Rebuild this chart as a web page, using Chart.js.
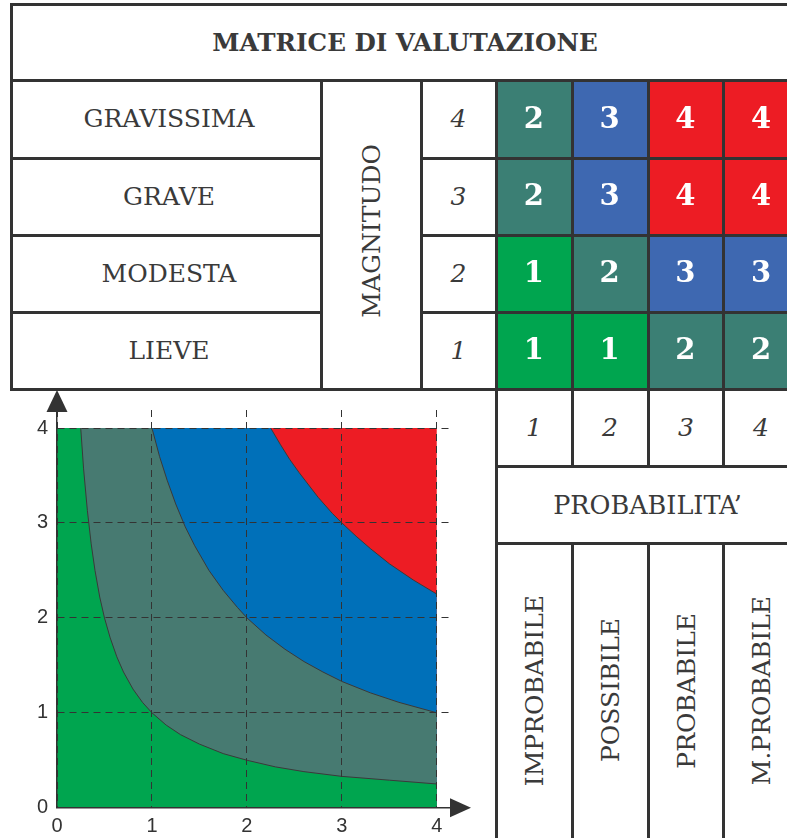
<!DOCTYPE html>
<html>
<head>
<meta charset="utf-8">
<script src="https://cdn.jsdelivr.net/npm/chart.js@4.4.1/dist/chart.umd.min.js"></script>
<style>
  html,body{margin:0;padding:0;background:#fff;width:787px;height:838px;overflow:hidden;position:relative}
  .c{position:absolute;display:flex;align-items:center;justify-content:center;font-family:'DejaVu Serif',serif;color:#3a3a3a;font-size:25px;white-space:nowrap}
  .v{writing-mode:vertical-rl;transform:rotate(180deg)}
  .i{font-style:italic;font-size:25px}
  .h{position:absolute;height:3px;background:#333;z-index:10}
  .w{position:absolute;width:3px;background:#333;z-index:10}
  .box{position:absolute}
</style>
</head>
<body>
<!-- text cells -->
<div class="c" style="left:11px;top:4px;width:788px;height:77px;font-weight:bold;font-size:24.6px">MATRICE DI VALUTAZIONE</div>
<div id="rowLabels"></div>
<div class="c" style="left:321px;top:76px;width:100px;height:309px"><span class="v">MAGNITUDO</span></div>
<div class="c" style="left:496px;top:466px;width:303px;height:77px;font-size:25.5px">PROBABILITA’</div>

<!-- matrix chart -->
<div class="box" style="left:496px;top:80.5px;width:303px;height:308.5px"><canvas id="matrix"></canvas></div>
<!-- area chart -->
<div class="box" style="left:0px;top:389px;width:490px;height:449px"><canvas id="area"></canvas></div>

<!-- table lines -->
<div class="h" style="left:9.5px;top:2.5px;width:790px"></div>
<div class="h" style="left:9.5px;top:79px;width:790px"></div>
<div class="h" style="left:9.5px;top:156.5px;width:313px"></div>
<div class="h" style="left:419.5px;top:156.5px;width:380px"></div>
<div class="h" style="left:9.5px;top:233.5px;width:313px"></div>
<div class="h" style="left:419.5px;top:233.5px;width:380px"></div>
<div class="h" style="left:9.5px;top:310.5px;width:313px"></div>
<div class="h" style="left:419.5px;top:310.5px;width:380px"></div>
<div class="h" style="left:9.5px;top:387.5px;width:790px"></div>
<div class="h" style="left:494.5px;top:464.5px;width:305px"></div>
<div class="h" style="left:494.5px;top:541.5px;width:305px"></div>
<div class="w" style="left:9.5px;top:2.5px;height:388px"></div>
<div class="w" style="left:319.5px;top:79px;height:311px"></div>
<div class="w" style="left:419.5px;top:79px;height:311px"></div>
<div class="w" style="left:494.5px;top:79px;height:760px"></div>
<div class="w" style="left:570.5px;top:79px;height:387px"></div>
<div class="w" style="left:570.5px;top:541.5px;height:300px"></div>
<div class="w" style="left:646.5px;top:79px;height:387px"></div>
<div class="w" style="left:646.5px;top:541.5px;height:300px"></div>
<div class="w" style="left:721.5px;top:79px;height:387px"></div>
<div class="w" style="left:721.5px;top:541.5px;height:300px"></div>

<script>
// ---------- data ----------
const magnitudeLabels = ['GRAVISSIMA', 'GRAVE', 'MODESTA', 'LIEVE'];   // top to bottom
const magnitudeValues = ['4', '3', '2', '1'];
const probabilityValues = ['1', '2', '3', '4'];
const probabilityLabels = ['IMPROBABILE', 'POSSIBILE', 'PROBABILE', 'M.PROBABILE'];

// risk = cell value, rows by magnitude (bottom row = magnitude 1)
const riskMag1 = [1, 1, 2, 2];
const riskMag2 = [1, 2, 3, 3];
const riskMag3 = [2, 3, 4, 4];
const riskMag4 = [2, 3, 4, 4];
const riskColors = { 1: '#00a54f', 2: '#3b7f74', 3: '#3e68b1', 4: '#ed1c24' };

// area chart boundaries (x = probability, y = magnitude)
const lowX  = [0, 0.25, 0.28, 0.32, 0.36, 0.4, 0.45, 0.5, 0.56, 0.63, 0.7, 0.8, 0.9, 1, 1.15, 1.3, 1.5, 1.75, 2, 2.3, 2.6, 3, 3.5, 4];
const lowY  = [4, 4, 3.57, 3.13, 2.78, 2.5, 2.22, 2, 1.79, 1.59, 1.43, 1.25, 1.11, 1, 0.87, 0.77, 0.67, 0.57, 0.5, 0.43, 0.38, 0.33, 0.29, 0.25];
const midX  = [0, 1, 1.08, 1.16, 1.25, 1.35, 1.45, 1.6, 1.75, 1.9, 2, 2.2, 2.4, 2.6, 2.8, 3, 3.3, 3.6, 4];
const midY  = [4, 4, 3.7, 3.45, 3.2, 2.96, 2.76, 2.5, 2.29, 2.11, 2, 1.82, 1.67, 1.54, 1.43, 1.33, 1.21, 1.11, 1];
const highX = [0, 2.25, 2.35, 2.45, 2.55, 2.65, 2.75, 2.9, 3, 3.15, 3.3, 3.5, 3.75, 4];
const highY = [4, 4, 3.83, 3.67, 3.53, 3.4, 3.27, 3.1, 3, 2.86, 2.73, 2.57, 2.4, 2.25];
const topX  = [0, 4];
const topY  = [4, 4];
const axisTicks = [0, 1, 2, 3, 4];
const areaColors = { green: '#00a54f', gray: '#477a71', blue: '#0070b9', red: '#ed1c24' };

// ---------- HTML text cells ----------
const rl = document.getElementById('rowLabels');
const rowTops = [80, 157.5, 234.5, 311.5];
magnitudeLabels.forEach((t, i) => {
  rl.insertAdjacentHTML('beforeend',
    `<div class="c" style="left:14px;top:${rowTops[i]}px;width:310px;height:77px">${t}</div>` +
    `<div class="c i" style="left:421px;top:${rowTops[i]}px;width:75px;height:77px">${magnitudeValues[i]}</div>`);
});
const colLefts = [496, 572, 648, 723];
probabilityValues.forEach((t, i) => {
  rl.insertAdjacentHTML('beforeend',
    `<div class="c i" style="left:${colLefts[i]}px;top:389px;width:76px;height:77px">${t}</div>` +
    `<div class="c" style="left:${colLefts[i]}px;top:543px;width:76px;height:295px"><span class="v">${probabilityLabels[i]}</span></div>`);
});

// ---------- matrix chart ----------
const rows = [riskMag1, riskMag2, riskMag3, riskMag4];
const cellLabelPlugin = {
  id: 'cellLabels',
  afterDatasetsDraw(chart) {
    const ctx = chart.ctx;
    ctx.save();
    ctx.fillStyle = '#fff';
    ctx.font = 'bold 29px "DejaVu Serif"';
    ctx.textAlign = 'center';
    ctx.textBaseline = 'middle';
    chart.data.datasets.forEach((ds, di) => {
      chart.getDatasetMeta(di).data.forEach((el, i) => {
        const p = el.getProps(['x', 'y', 'base'], true);
        ctx.fillText(String(ds.risk[i]), p.x, (p.y + p.base) / 2 + 1);
      });
    });
    ctx.restore();
  }
};
new Chart(document.getElementById('matrix'), {
  type: 'bar',
  data: {
    labels: probabilityValues,
    datasets: rows.map((r, k) => ({
      label: 'M' + (k + 1),
      risk: r,
      data: r.map(() => 1),
      backgroundColor: r.map(v => riskColors[v]),
      borderWidth: 0,
      barPercentage: 1,
      categoryPercentage: 1
    }))
  },
  options: {
    animation: false, responsive: true, maintainAspectRatio: false,
    layout: { padding: 0 },
    plugins: { legend: { display: false }, tooltip: { enabled: false } },
    scales: {
      x: { stacked: true, display: false },
      y: { stacked: true, display: false, min: 0, max: 4 }
    }
  },
  plugins: [cellLabelPlugin]
});

// ---------- area chart ----------
const pts = (xs, ys) => xs.map((x, i) => ({ x, y: ys[i] }));
const curve = (xs, ys) => pts(xs, ys).slice(1);   // boundary curve only (without flat top)
const arrowPlugin = {
  id: 'arrows',
  afterDraw(chart) {
    const ctx = chart.ctx, a = chart.chartArea;
    const x0 = chart.scales.x.getPixelForValue(0);
    const y0 = chart.scales.y.getPixelForValue(0);
    ctx.save();
    ctx.fillStyle = '#333';
    ctx.beginPath();
    ctx.moveTo(x0, a.top - 20);
    ctx.lineTo(x0 - 10.5, a.top + 2);
    ctx.lineTo(x0 + 10.5, a.top + 2);
    ctx.closePath(); ctx.fill();
    ctx.beginPath();
    ctx.moveTo(a.right + 18, y0);
    ctx.lineTo(a.right - 3, y0 - 9.5);
    ctx.lineTo(a.right - 3, y0 + 9.5);
    ctx.closePath(); ctx.fill();
    ctx.restore();
  }
};
const lineDs = (label, data) => ({ label, data, fill: false, borderColor: '#3a3a3a', borderWidth: 1, tension: 0 });
const tickFont = { family: '"Liberation Sans", Arial, sans-serif', size: 20 };
new Chart(document.getElementById('area'), {
  type: 'line',
  data: {
    datasets: [
      lineDs('confine 1', curve(lowX, lowY)),
      lineDs('confine 2', curve(midX, midY)),
      lineDs('confine 3', curve(highX, highY)),
      { label: 'rischio 1', data: pts(lowX, lowY),   backgroundColor: areaColors.green, fill: 'origin', borderWidth: 0 },
      { label: 'rischio 2', data: pts(midX, midY),   backgroundColor: areaColors.gray,  fill: 'origin', borderWidth: 0 },
      { label: 'rischio 3', data: pts(highX, highY), backgroundColor: areaColors.blue,  fill: 'origin', borderWidth: 0 },
      { label: 'rischio 4', data: pts(topX, topY),   backgroundColor: areaColors.red,   fill: 'origin', borderWidth: 0 }
    ]
  },
  options: {
    animation: false, responsive: true, maintainAspectRatio: false,
    layout: { padding: { left: 0, top: 21, right: 37, bottom: 0 } },
    elements: { point: { radius: 0 }, line: { tension: 0 } },
    plugins: { legend: { display: false }, tooltip: { enabled: false } },
    scales: {
      x: {
        type: 'linear', min: 0, max: 4.17,
        afterFit: s => { s.height = 30.3; },
        afterBuildTicks: s => { s.ticks = axisTicks.map(v => ({ value: v })); },
        grid: { color: '#333', lineWidth: 1, drawTicks: false, z: 1 },
        border: { color: '#333', width: 1.5, dash: [7, 5], z: 2 },
        ticks: { font: tickFont, color: '#333', padding: 7, callback: v => String(v) }
      },
      y: {
        type: 'linear', min: 0, max: 4.19,
        afterFit: s => { s.width = 57; },
        afterBuildTicks: s => { s.ticks = axisTicks.map(v => ({ value: v })); },
        grid: { color: '#333', lineWidth: 1, drawTicks: false, z: 1 },
        border: { color: '#333', width: 1.5, dash: [7, 5], z: 2 },
        ticks: { font: tickFont, color: '#333', padding: 9, callback: v => String(v) }
      }
    }
  },
  plugins: [arrowPlugin]
});
</script>
</body>
</html>
